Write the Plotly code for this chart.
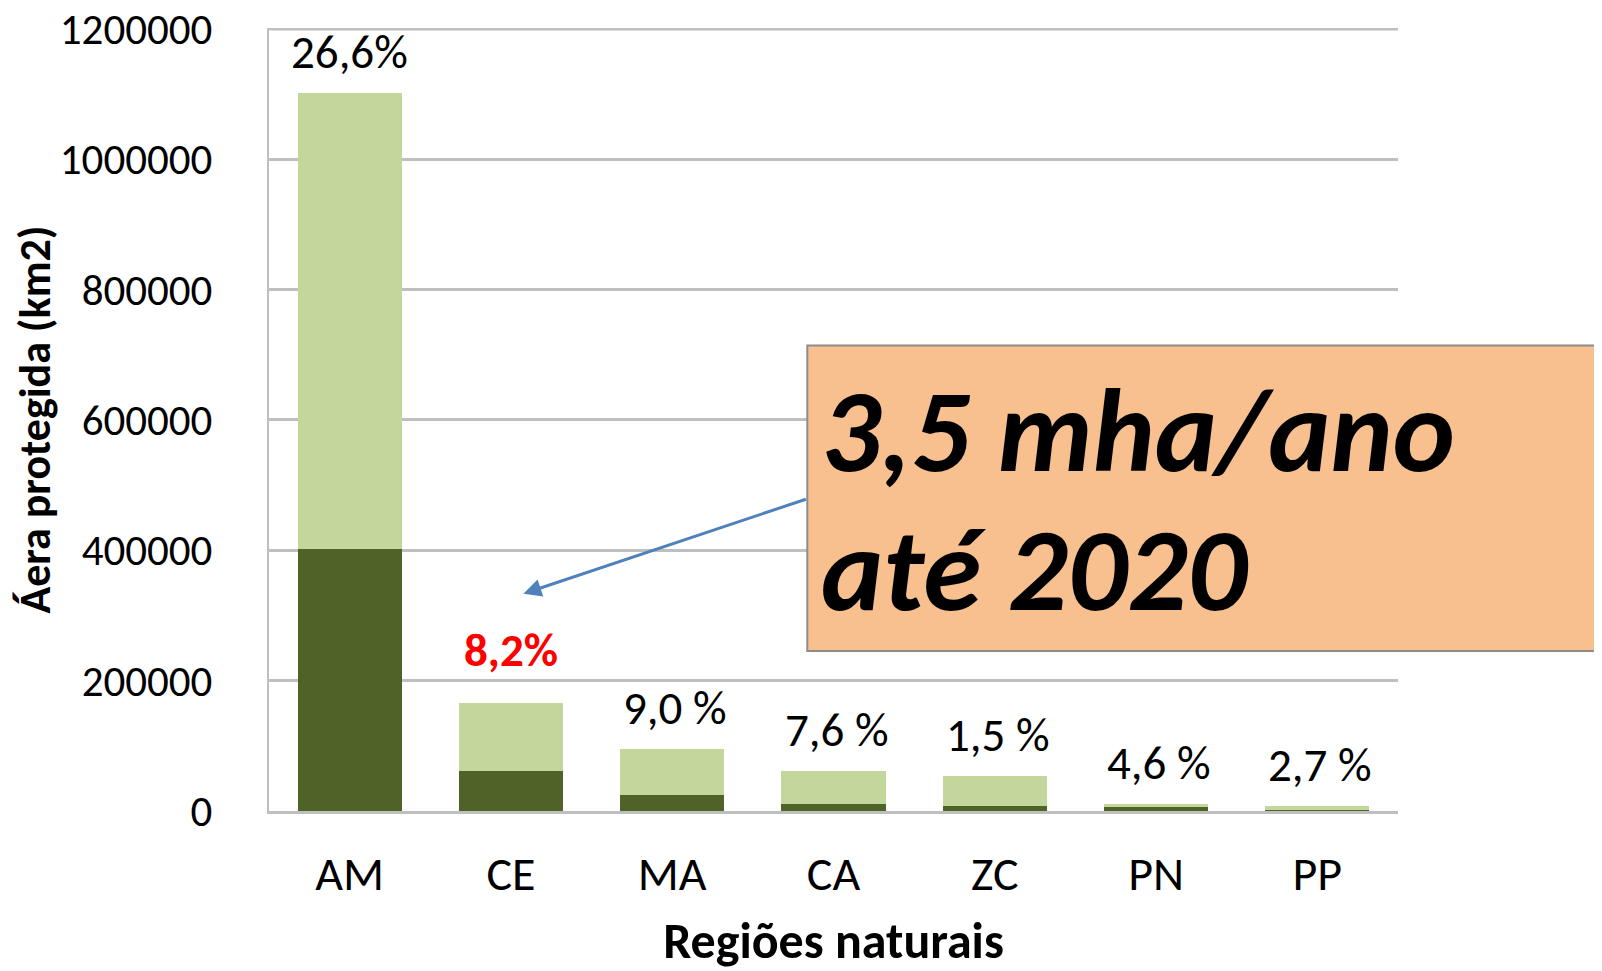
import plotly.graph_objects as go

categories = ["AM", "CE", "MA", "CA", "ZC", "PN", "PP"]
existing_area = [402000, 61000, 24000, 11000, 7000, 6000, 800]
total_area = [1102000, 166000, 95000, 62000, 53000, 10000, 7000]
additional_area = [t - e for t, e in zip(total_area, existing_area)]
pct_labels = ["26,6%", "8,2%", "9,0 %", "7,6 %", "1,5 %", "4,6 %", "2,7 %"]
y_ticks = [0, 200000, 400000, 600000, 800000, 1000000, 1200000]

FONT = "Carlito, Lato, 'Open Sans', sans-serif"
DARK = "#4F6228"
LIGHT = "#C3D69B"

fig = go.Figure()
fig.add_trace(go.Bar(x=categories, y=existing_area, marker=dict(color=DARK, line=dict(width=0)),
                     hoverinfo="y"))
fig.add_trace(go.Bar(x=categories, y=additional_area, marker=dict(color=LIGHT, line=dict(width=0)),
                     hoverinfo="y"))

annotations = []
for i, (c, t, lab) in enumerate(zip(categories, total_area, pct_labels)):
    is_hl = (c == "CE")
    annotations.append(dict(
        x=c, y=t, xref="x", yref="y", text=lab, showarrow=False,
        yanchor="bottom", xanchor="center", yshift=22 if is_hl else 10,
        xshift=0 if i < 2 else 3,
        font=dict(family=FONT, size=47, color="#FF0000" if is_hl else "#000000",
                  weight="bold" if is_hl else "normal"),
    ))

BOXFONT = dict(family=FONT, size=118, color="#000000")
annotations.append(dict(x=0.4873, y=0.485, xref="paper", yref="paper", xanchor="left", yanchor="middle",
                        text="<b><i>3,5 mha/ano</i></b>", showarrow=False, font=BOXFONT))
annotations.append(dict(x=0.4873, y=0.308, xref="paper", yref="paper", xanchor="left", yanchor="middle",
                        text="<b><i>até 2020</i></b>", showarrow=False, font=BOXFONT))
annotations.append(dict(x=0.2253, y=0.2775, xref="paper", yref="paper", text="", showarrow=True,
                        ax=284, ay=-95, arrowhead=2, arrowsize=1.2, arrowwidth=3, arrowcolor="#4F81BD",
                        standoff=0, startstandoff=0))

fig.update_layout(
    barmode="stack",
    bargap=0.355,
    showlegend=False,
    width=1594, height=963,
    margin=dict(l=261, r=204, t=20, b=160, autoexpand=False),
    plot_bgcolor="white", paper_bgcolor="white",
    font=dict(family=FONT, color="#000000"),
    annotations=annotations,
    shapes=[
        dict(type="line", xref="paper", x0=0, x1=1, yref="y", y0=y_ticks[-1], y1=y_ticks[-1],
             line=dict(color="#BFBFBF", width=3), layer="below"),
        dict(type="rect", xref="paper", yref="paper", x0=0.4768, x1=1.3, y0=0.2045, y1=0.5945,
             fillcolor="#F8BF8F", line=dict(color="#8C8C8C", width=2), layer="above"),
    ],
)
fig.update_xaxes(
    automargin=False,
    showline=True, linecolor="#BFBFBF", linewidth=3, showgrid=False,
    tickfont=dict(family=FONT, size=48, color="#000000"), ticks="", ticklabelstandoff=18,
    title=dict(text="<b>Regiões naturais</b>", font=dict(family=FONT, size=50, color="#000000"), standoff=26),
)
fig.update_yaxes(
    automargin=False,
    range=[0, 1201500], tickvals=y_ticks, ticktext=[str(v) for v in y_ticks],
    showline=True, linecolor="#BFBFBF", linewidth=2, showgrid=True, gridcolor="#BFBFBF", gridwidth=3,
    zeroline=False, ticks="", ticklabelstandoff=46, ticklabeloverflow="allow",
    tickfont=dict(family=FONT, size=43, color="#000000"),
    title=dict(text="<b>Áera protegida (km2)</b>", font=dict(family=FONT, size=44, color="#000000"), standoff=4),
)

fig.write_html("out.html")
